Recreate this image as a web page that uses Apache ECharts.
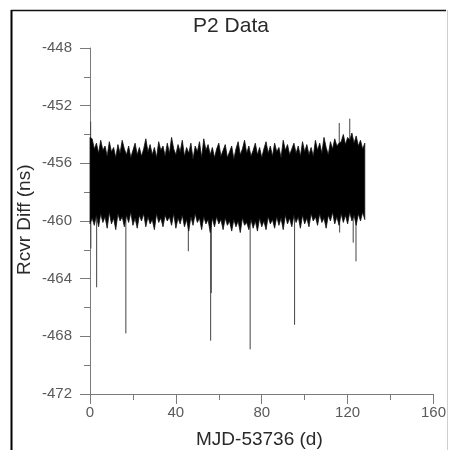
<!DOCTYPE html>
<html>
<head>
<meta charset="utf-8">
<script src="https://cdn.jsdelivr.net/npm/echarts@6/dist/echarts.min.js"></script>
<style>
html,body{margin:0;padding:0;background:#fff;}
#chart{width:449px;height:450px;}
</style>
</head>
<body>
<div id="chart"></div>
<script>
// ---- data ----
const title = 'P2 Data';
const xName = 'MJD-53736 (d)';
const yName = 'Rcvr Diff (ns)';
const xTicks = [0, 40, 80, 120, 160];
const yTicks = [-472, -468, -464, -460, -456, -452, -448];

// upper envelope of the noise band, one value per day (day 0..128)
const bandHigh = [
 -454.2,-454.3,-455.0,-454.6,-455.3,-454.4,-455.1,-454.8,-455.5,-454.5,
 -455.2,-454.9,-455.6,-454.7,-455.3,-454.4,-455.0,-455.4,-454.8,-455.6,
 -455.1,-454.6,-455.4,-454.9,-455.5,-455.0,-454.3,-455.2,-454.7,-455.4,
 -454.9,-455.6,-454.5,-455.1,-454.8,-455.5,-454.6,-455.3,-454.2,-455.0,
 -455.4,-454.7,-455.2,-454.4,-455.5,-454.9,-455.3,-454.6,-455.7,-454.8,
 -455.2,-454.5,-455.6,-454.3,-455.1,-454.7,-455.4,-454.9,-455.6,-455.0,
 -454.6,-455.5,-455.1,-454.7,-455.6,-455.2,-454.8,-455.7,-455.0,-454.5,
 -455.4,-455.0,-454.4,-455.3,-454.8,-455.5,-455.1,-454.6,-455.4,-454.9,
 -455.6,-455.0,-454.5,-455.3,-454.8,-455.5,-454.6,-455.2,-454.9,-455.6,
 -454.4,-455.1,-454.7,-455.4,-455.0,-454.6,-455.3,-454.8,-455.5,-454.5,
 -455.2,-454.7,-455.4,-454.9,-455.5,-454.4,-455.1,-454.6,-455.3,-454.2,
 -454.9,-455.4,-454.5,-455.0,-454.3,-454.8,-454.6,-454.5,-454.0,-454.7,
 -454.2,-454.4,-453.9,-454.6,-454.1,-454.8,-454.4,-455.0,-454.6
];
// lower envelope of the noise band, one value per day (day 0..128)
const bandLow = [
 -460.2,-459.8,-460.3,-459.6,-460.4,-459.5,-460.1,-459.7,-460.5,-459.4,
 -460.2,-459.8,-460.6,-459.5,-460.0,-459.7,-460.4,-459.6,-460.1,-459.4,
 -460.3,-459.8,-460.5,-459.6,-460.0,-459.5,-460.4,-459.7,-460.2,-459.9,
 -460.6,-459.5,-460.1,-459.8,-460.4,-459.6,-460.0,-459.7,-460.3,-459.5,
 -460.5,-459.8,-460.2,-459.6,-460.4,-459.9,-460.7,-459.7,-460.3,-459.5,
 -460.1,-459.8,-460.6,-459.7,-460.2,-459.9,-460.8,-459.8,-460.4,-459.7,
 -460.2,-459.9,-460.6,-459.8,-460.3,-460.0,-460.7,-459.9,-460.4,-460.0,
 -460.8,-459.8,-460.3,-460.1,-460.6,-459.9,-460.5,-460.0,-460.7,-459.8,
 -460.4,-460.0,-460.6,-459.7,-460.2,-459.9,-460.5,-459.7,-460.3,-459.8,
 -460.6,-459.6,-460.2,-459.8,-460.4,-459.6,-460.1,-459.7,-460.5,-459.6,
 -460.2,-459.8,-460.4,-459.5,-460.0,-459.7,-460.3,-459.5,-460.1,-459.8,
 -460.5,-459.6,-460.0,-459.4,-460.2,-459.7,-460.3,-459.5,-460.1,-459.6,
 -460.2,-459.4,-460.0,-459.6,-460.3,-459.5,-460.0,-459.4,-459.9
];
// isolated outliers (day, value)
const spikeDays = [0.3, 0.4, 3.1, 16.7, 45.8, 56.2, 56.5, 74.6, 95.3, 116.1, 116.3, 121.0, 122.6, 123.9];
const spikeVals = [-453.1, -461.9, -464.6, -467.8, -462.1, -468.3, -465.0, -468.9, -467.2, -453.2, -460.8, -452.9, -461.5, -462.8];

// ---- build series data ----
// each outlier drawn as a stroke from the band middle (of that day) out to its value
const spikeData = [];
for (let k = 0; k < spikeDays.length; k++) {
  const j = Math.min(bandHigh.length - 1, Math.round(spikeDays[k]));
  spikeData.push([spikeDays[k], (bandHigh[j] + bandLow[j]) / 2]);
  spikeData.push([spikeDays[k], spikeVals[k]]);
  spikeData.push([spikeDays[k], '-']);
}

function renderBand(params, api) {
  const poly = [];
  for (let i = 0; i < bandHigh.length; i++) poly.push(api.coord([i, bandHigh[i]]));
  for (let i = bandLow.length - 1; i >= 0; i--) poly.push(api.coord([i, bandLow[i]]));
  return {
    type: 'polygon',
    shape: {points: poly},
    style: {fill: '#000', stroke: '#111', lineWidth: 0.8}
  };
}

const chart = echarts.init(document.getElementById('chart'), null, {renderer: 'canvas'});
const axisCol = '#7a7a7a';
const labCol = '#5a5a5a';
const font = 'Liberation Sans, Arial, sans-serif';
chart.setOption({
  animation: false,
  backgroundColor: '#fff',
  grid: {left: 90, right: 12, top: 48, bottom: 56, containLabel: false},
  xAxis: {
    type: 'value', min: xTicks[0], max: xTicks[xTicks.length - 1], interval: 40,
    axisLine: {show: true, onZero: false, lineStyle: {color: axisCol, width: 1}},
    axisTick: {show: true, inside: false, length: 10, lineStyle: {color: axisCol}},
    minorTick: {show: true, splitNumber: 2, length: 6, lineStyle: {color: axisCol}},
    axisLabel: {color: labCol, fontSize: 15, fontFamily: font, margin: 11},
    splitLine: {show: false}
  },
  yAxis: {
    type: 'value', min: yTicks[0], max: yTicks[yTicks.length - 1], interval: 4,
    axisLine: {show: true, onZero: false, lineStyle: {color: axisCol, width: 1}},
    axisTick: {show: true, inside: false, length: 10, lineStyle: {color: axisCol}},
    minorTick: {show: true, splitNumber: 2, length: 6, lineStyle: {color: axisCol}},
    axisLabel: {color: labCol, fontSize: 15, fontFamily: font, margin: 18},
    splitLine: {show: false}
  },
  series: [
    {
      type: 'line', data: spikeData, connectNulls: false,
      showSymbol: false, symbol: 'none', sampling: null,
      lineStyle: {color: '#444', width: 1}, z: 2
    },
    {
      type: 'custom', renderItem: renderBand,
      data: [[0, bandLow[0]]], encode: {x: 0, y: 1}, z: 3
    }
  ],
  graphic: [
    {type: 'line', shape: {x1: 11.5, y1: 10, x2: 11.5, y2: 450}, style: {stroke: '#000', lineWidth: 2}},
    {type: 'line', shape: {x1: 11, y1: 10.5, x2: 446, y2: 10.5}, style: {stroke: '#111', lineWidth: 1.5}},
    {type: 'line', shape: {x1: 447.5, y1: 10, x2: 447.5, y2: 450}, style: {stroke: '#cfcfcf', lineWidth: 1}},
    {type: 'text', x: 231, y: 16, style: {text: title, font: '21px ' + font, fill: '#2a2a2a', textAlign: 'center', textVerticalAlign: 'top'}},
    {type: 'text', left: 196, top: 430, style: {text: xName, font: '19px ' + font, fill: '#2a2a2a'}},
    {type: 'text', rotation: Math.PI / 2, x: 15, y: 275, style: {text: yName, font: '19px ' + font, fill: '#2a2a2a', textAlign: 'left', textVerticalAlign: 'top'}}
  ]
});
</script>
</body>
</html>
